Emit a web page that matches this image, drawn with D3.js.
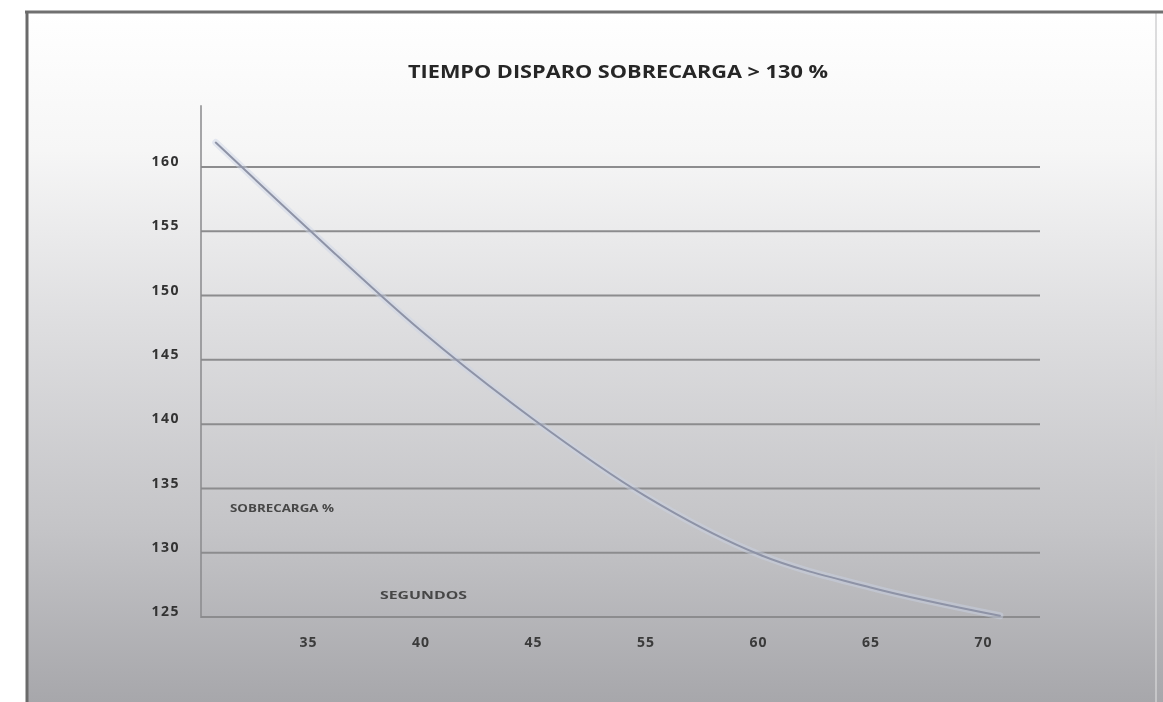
<!DOCTYPE html>
<html>
<head>
<meta charset="utf-8">
<script src="https://cdn.jsdelivr.net/npm/d3@7"></script>
<style>
  html, body { margin: 0; padding: 0; background: #ffffff; }
  svg { display: block; }
</style>
</head>
<body>
<svg id="chart" width="1163" height="702"></svg>
<script>
// ---- data ----
const titleText = "TIEMPO DISPARO SOBRECARGA > 130 %";
const yLabel = "SOBRECARGA %";
const xLabel = "SEGUNDOS";
const yTicks = [125, 130, 135, 140, 145, 150, 155, 160];
const xTickLabels = ["35", "40", "45", "55", "60", "65", "70"];
// curve: position along the category axis (index of tick label) and overload value
const curveIndex  = [-0.82, 0, 1, 2, 3, 4, 5, 6.15];
const curveValues = [161.9, 155.2, 147.3, 140.4, 134.4, 129.9, 127.3, 125.1];

// ---- drawing ----
const svg = d3.select("#chart");
const W = 1163, H = 702;

const defs = svg.append("defs");
const grad = defs.append("linearGradient").attr("id", "bg")
  .attr("x1", 0).attr("y1", 0).attr("x2", 0).attr("y2", 1);
[[0, "#ffffff"], [0.2, "#f6f6f6"], [0.45, "#dedee0"], [0.75, "#c4c4c7"], [1, "#a7a7ab"]]
  .forEach(([o, c]) => grad.append("stop").attr("offset", o).attr("stop-color", c));

const blur = defs.append("filter").attr("id", "soft")
  .attr("filterUnits", "userSpaceOnUse")
  .attr("x", -1500).attr("y", -1500).attr("width", 4000).attr("height", 4000);
blur.append("feGaussianBlur").attr("stdDeviation", 0.6);

// frame
svg.append("rect").attr("x", 27).attr("y", 12).attr("width", W - 27).attr("height", H - 12)
  .attr("fill", "url(#bg)");
svg.append("line").attr("x1", 1156).attr("x2", 1156).attr("y1", 13).attr("y2", H)
  .attr("stroke", "#d0d0d2").attr("stroke-width", 1.5);
svg.append("line").attr("x1", 25).attr("x2", W).attr("y1", 12).attr("y2", 12)
  .attr("stroke", "#707070").attr("stroke-width", 3);
svg.append("line").attr("x1", 27).attr("x2", 27).attr("y1", 11).attr("y2", H)
  .attr("stroke", "#6a6a6a").attr("stroke-width", 3);

const y = d3.scaleLinear().domain([125, 160]).range([617, 167]);
const x = d3.scaleLinear().domain([0, xTickLabels.length - 1]).range([308, 983]);
const gridX0 = 201, gridX1 = 1040;

// gridlines
svg.append("g").attr("filter", "url(#soft)")
  .selectAll("line").data(yTicks).join("line")
  .attr("x1", gridX0).attr("x2", gridX1)
  .attr("y1", d => y(d)).attr("y2", d => y(d))
  .attr("stroke", "#8c8c8e").attr("stroke-width", 2);

// y axis line
svg.append("line").attr("x1", gridX0).attr("x2", gridX0)
  .attr("y1", y(164.8)).attr("y2", y(125) + 1)
  .attr("stroke", "#8a8a8c").attr("stroke-width", 1.5);

// y axis labels
const yAxis = d3.axisLeft(y).tickValues(yTicks).tickSize(0).tickPadding(21).tickFormat(d3.format("d"));
const gy = svg.append("g").attr("transform", `translate(${gridX0},0)`).call(yAxis);
gy.select(".domain").remove();
gy.attr("filter", "url(#soft)");
gy.selectAll("text")
  .attr("dy", "-0.1em")
  .attr("fill", "#333333")
  .style("font-family", "'Open Sans', 'Noto Sans', sans-serif")
  .style("font-weight", "700")
  .style("font-size", "14px")
  .style("letter-spacing", "1.5px");

// x axis labels
const xAxis = d3.axisBottom(x).tickValues(d3.range(xTickLabels.length)).tickSize(0).tickPadding(20)
  .tickFormat(i => xTickLabels[i]);
const gx = svg.append("g").attr("transform", `translate(0,${y(125)})`).call(xAxis);
gx.select(".domain").remove();
gx.attr("filter", "url(#soft)");
gx.selectAll("text")
  .attr("fill", "#3a3a3a")
  .style("font-family", "'Open Sans', 'Noto Sans', sans-serif")
  .style("font-weight", "700")
  .style("font-size", "14px")
  .style("letter-spacing", "1px");

// curve
const pts = curveIndex.map((c, i) => [c, curveValues[i]]);
const line = d3.line().x(d => x(d[0])).y(d => y(d[1])).curve(d3.curveMonotoneX);
svg.append("path").datum(pts).attr("d", line)
  .attr("fill", "none").attr("stroke", "#c9d3e6").attr("stroke-width", 7)
  .attr("stroke-opacity", 0.45).attr("stroke-linecap", "round");
svg.append("path").datum(pts).attr("d", line)
  .attr("fill", "none").attr("stroke", "#8e93a6").attr("stroke-width", 2)
  .attr("stroke-linecap", "round").attr("filter", "url(#soft)");

// title
svg.append("text").attr("x", 618).attr("y", 78)
  .attr("text-anchor", "middle")
  .attr("fill", "#262626")
  .style("font-family", "'Open Sans', 'Noto Sans', sans-serif")
  .style("font-weight", "700")
  .style("font-size", "18px")
  .attr("textLength", 420).attr("lengthAdjust", "spacingAndGlyphs")
  .attr("filter", "url(#soft)")
  .text(titleText);

// inner labels
svg.append("text").attr("x", 230).attr("y", 512)
  .attr("fill", "#474747")
  .style("font-family", "'Open Sans', 'Noto Sans', sans-serif")
  .style("font-weight", "700")
  .style("font-size", "10px")
  .attr("textLength", 104).attr("lengthAdjust", "spacingAndGlyphs")
  .attr("filter", "url(#soft)")
  .text(yLabel);
svg.append("text").attr("x", 380).attr("y", 599)
  .attr("fill", "#474747")
  .style("font-family", "'Open Sans', 'Noto Sans', sans-serif")
  .style("font-weight", "700")
  .style("font-size", "10px")
  .attr("textLength", 87).attr("lengthAdjust", "spacingAndGlyphs")
  .attr("filter", "url(#soft)")
  .text(xLabel);
</script>
</body>
</html>
